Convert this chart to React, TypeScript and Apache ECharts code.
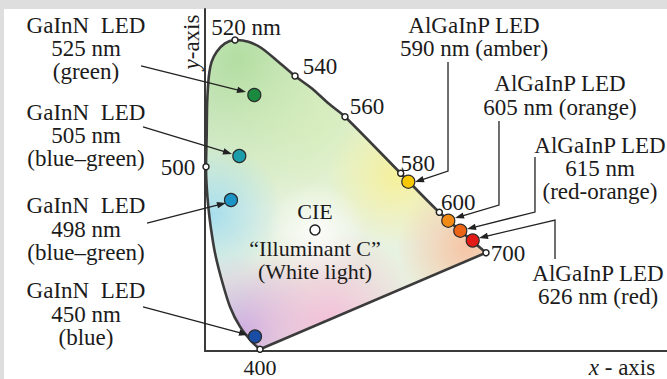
import React, { useEffect, useRef } from "react";
import * as echarts from "echarts";

// ---- DATA ----
// Spectral locus (chromaticity x, y), from 400 nm round to 700 nm
const locusX = [0.1429, 0.1213, 0.0909, 0.0649, 0.0434, 0.026, 0.0148, 0.0086, 0.0044, 0.0026, 0.0044, 0.0052, 0.007, 0.0104, 0.0174, 0.0304, 0.0519, 0.0779, 0.1125, 0.1473, 0.1904, 0.2338, 0.2771, 0.3203, 0.3636, 0.5083, 0.6086, 0.7299];
const locusY = [0.0046, 0.025, 0.0654, 0.1192, 0.191, 0.2636, 0.3344, 0.3882, 0.442, 0.4958, 0.5811, 0.6537, 0.6975, 0.7425, 0.7782, 0.8051, 0.8277, 0.8366, 0.832, 0.8143, 0.7782, 0.7398, 0.7067, 0.6663, 0.6303, 0.478, 0.3731, 0.2644];

// Wavelength markers on the locus
const markerNm = [400, 500, 520, 540, 560, 580, 600, 700];
const markerIdx = [0, 9, 17, 21, 24, 25, 26, 27];
const markerText = ["400", "500", "520 nm", "540", "560", "580", "600", "700"];

// LEDs
const ledNm = [525, 505, 498, 450, 590, 605, 615, 626];
const ledX = [0.1281, 0.0891, 0.0675, 0.1299, 0.5281, 0.6319, 0.6631, 0.6953];
const ledY = [0.6887, 0.5246, 0.4062, 0.039, 0.4554, 0.3505, 0.3236, 0.2973];

// CIE Illuminant C
const whiteX = [0.2857];
const whiteY = [0.3255];

// Leader lines (data coords), last point is the arrow tip
const arrow525 = [[-0.1662, 0.7667], [0.1065, 0.6967]];
const arrow505 = [[-0.161, 0.6026], [0.0701, 0.5299]];
const arrow498 = [[-0.1506, 0.3443], [0.0545, 0.3981]];
const arrow450 = [[-0.161, 0.1184], [0.1117, 0.043]];
const arrow590 = [[0.6312, 0.7774], [0.6312, 0.4842], [0.5455, 0.4546]];
const arrow605 = [[0.7636, 0.6187], [0.7636, 0.3927], [0.6494, 0.3578]];
const arrow615 = [[0.8571, 0.5219], [0.8571, 0.3739], [0.6805, 0.3282]];
const arrow626 = [[0.9091, 0.2475], [0.9091, 0.3524], [0.7117, 0.304]];
const arrows = [arrow525, arrow505, arrow498, arrow450, arrow590, arrow605, arrow615, arrow626];

// Label texts
const ledLabels = [
  "GaInN\u00a0 LED\n525 nm\n(green)",
  "GaInN\u00a0 LED\n505 nm\n(blue\u2013green)",
  "GaInN\u00a0 LED\n498 nm\n(blue\u2013green)",
  "GaInN\u00a0 LED\n450 nm\n(blue)",
  "AlGaInP LED\n590 nm (amber)",
  "AlGaInP LED\n605 nm (orange)",
  "AlGaInP LED\n615 nm\n(red-orange)",
  "AlGaInP LED\n626 nm (red)",
];
const whiteLabelTop = "CIE";
const whiteLabelBottom = "\u201cIlluminant C\u201d\n(White light)";

// ---- STYLE / LAYOUT ----
const ledColors = ["#1b8a3e", "#1c9eaa", "#1d94c6", "#1a4ea6", "#f7c808", "#f28a16", "#ec6416", "#e31b16"];
const ledLabelPos = [
  [86, 48.5],
  [86, 135.5],
  [86, 229],
  [86, 314],
  [474, 37],
  [560, 95.5],
  [600, 168.5],
  [598, 285],
];
const markerOffsets = [[0, 18], [-28, 1], [11, -13], [25, -9], [22, -10], [17, -10], [19, -10], [22, 1]];
const blobs = [
  { c: [0.09, 0.78], r: 150, color: [155, 212, 135], a: 0.7 },
  { c: [0.3, 0.6], r: 110, color: [215, 238, 180], a: 0.6 },
  { c: [0.02, 0.37], r: 70, color: [160, 220, 238], a: 0.9 },
  { c: [0.5, 0.47], r: 70, color: [250, 240, 140], a: 0.8 },
  { c: [0.68, 0.28], r: 70, color: [250, 185, 150], a: 0.8 },
  { c: [0.1, 0.05], r: 80, color: [200, 165, 225], a: 0.9 },
  { c: [0.32, 0.08], r: 95, color: [245, 180, 215], a: 0.8 },
  { c: [0.29, 0.32], r: 50, color: [255, 255, 255], a: 0.85 },
];

const FONT = '"Liberation Serif", "Times New Roman", serif';
const TXT = "#1b1b1b";
const LH = 23.2;

export default function App() {
  const ref = useRef<HTMLDivElement>(null);
  useEffect(() => {
    if (!ref.current) return;
    const chart = echarts.init(ref.current, undefined, { renderer: "svg" });
    const rgba = (c: number[], a: number) => `rgba(${c[0]},${c[1]},${c[2]},${a})`;

    const textEl = (t: string, x: number, y: number, size: number, lh: number) => ({
      type: "text",
      x,
      y,
      z: 50,
      style: {
        text: t,
        font: `${size}px ${FONT}`,
        lineHeight: lh,
        fill: TXT,
        textAlign: "center",
        textVerticalAlign: "middle",
      },
    });

    const graphicTexts: any[] = ledLabels.map((t, i) =>
      textEl(t, ledLabelPos[i][0], ledLabelPos[i][1], 23, LH)
    );
    graphicTexts.push(textEl(whiteLabelTop, 315, 211, 22, 22));
    graphicTexts.push(textEl(whiteLabelBottom, 315, 260, 22, 23));
    graphicTexts.push({
      type: "text",
      x: 191,
      y: 42,
      rotation: Math.PI / 2,
      z: 50,
      style: {
        text: "{i|y}-axis",
        font: `23px ${FONT}`,
        fill: TXT,
        textAlign: "center",
        textVerticalAlign: "middle",
        rich: { i: { fontStyle: "italic", fontSize: 23, fontFamily: FONT } },
      },
    });
    graphicTexts.push({
      type: "text",
      x: 622,
      y: 367,
      z: 50,
      style: {
        text: "{i|x} - axis",
        font: `23px ${FONT}`,
        lineHeight: 20,
        fill: TXT,
        textAlign: "center",
        textVerticalAlign: "middle",
        rich: { i: { fontStyle: "italic", fontSize: 23, fontFamily: FONT, lineHeight: 20 } },
      },
    });

    const axisCommon = {
      type: "value" as const,
      axisLine: { show: true, onZero: false, lineStyle: { color: "#3a3a3a", width: 2 } },
      axisTick: { show: false },
      axisLabel: { show: false },
      splitLine: { show: false },
    };

    chart.setOption({
      animation: false,
      grid: { left: 205, top: 9, right: 0, bottom: 28 },
      xAxis: { ...axisCommon, min: 0, max: 1.2 },
      yAxis: { ...axisCommon, min: 0, max: 0.92 },
      graphic: graphicTexts,
      series: [
        {
          type: "custom",
          z: 1,
          silent: true,
          data: [[0, 0]],
          renderItem: (_p: any, api: any) => {
            const pts = locusX.map((x, i) => api.coord([x, locusY[i]]));
            const children: any[] = [
              { type: "polygon", shape: { points: pts }, style: { fill: "#e8f2e0" } },
            ];
            blobs.forEach((b) => {
              const c = api.coord(b.c);
              children.push({
                type: "polygon",
                shape: { points: pts },
                style: {
                  fill: new echarts.graphic.RadialGradient(
                    c[0],
                    c[1],
                    b.r,
                    [
                      { offset: 0, color: rgba(b.color, b.a) },
                      { offset: 1, color: rgba(b.color, 0) },
                    ],
                    true
                  ),
                },
              });
            });
            children.push({
              type: "polyline",
              shape: { points: pts, smooth: 0.25 },
              style: { stroke: "#3b3b3b", lineWidth: 2.6, fill: null },
            });
            children.push({
              type: "line",
              shape: { x1: pts[pts.length - 1][0], y1: pts[pts.length - 1][1], x2: pts[0][0], y2: pts[0][1] },
              style: { stroke: "#3b3b3b", lineWidth: 2.6 },
            });
            return { type: "group", children };
          },
        },
        {
          type: "custom",
          z: 3,
          silent: true,
          data: arrows.map((_a, i) => [i, 0]),
          renderItem: (p: any, api: any) => {
            const path = arrows[p.dataIndex].map((q) => api.coord(q));
            const n = path.length;
            const [tx, ty] = path[n - 1];
            const [px, py] = path[n - 2];
            const dx = tx - px;
            const dy = ty - py;
            const len = Math.hypot(dx, dy);
            const ux = dx / len;
            const uy = dy / len;
            const L = 9;
            const W = 3.2;
            const bx = tx - ux * L;
            const by = ty - uy * L;
            const head = [
              [tx, ty],
              [bx - uy * W, by + ux * W],
              [bx + uy * W, by - ux * W],
            ];
            const linePts = path.slice(0, n - 1).concat([[bx + ux * 2, by + uy * 2]]);
            return {
              type: "group",
              children: [
                { type: "polyline", shape: { points: linePts }, style: { stroke: "#222", lineWidth: 1.3, fill: null } },
                { type: "polygon", shape: { points: head }, style: { fill: "#222" } },
              ],
            };
          },
        },
        {
          type: "scatter",
          z: 4,
          symbol: "circle",
          symbolSize: 6,
          itemStyle: { color: "#fff", borderColor: "#222", borderWidth: 1.5, opacity: 1 },
          data: markerNm.map((nm, i) => ({
            name: String(nm),
            value: [locusX[markerIdx[i]], locusY[markerIdx[i]]],
            label: {
              show: true,
              position: "inside",
              offset: markerOffsets[i],
              formatter: markerText[i],
              color: TXT,
              fontSize: nm === 400 ? 22 : 23,
              lineHeight: 18,
              fontFamily: FONT,
            },
          })),
        },
        {
          type: "scatter",
          z: 4,
          symbol: "circle",
          symbolSize: 10,
          itemStyle: { color: "#fff", borderColor: "#222", borderWidth: 1.5, opacity: 1 },
          data: whiteX.map((x, i) => [x, whiteY[i]]),
        },
        {
          type: "scatter",
          z: 5,
          symbol: "circle",
          symbolSize: 13,
          data: ledNm.map((nm, i) => ({
            name: nm + " nm",
            value: [ledX[i], ledY[i]],
            itemStyle: { color: ledColors[i], borderColor: "#2a2a2a", borderWidth: 1.2, opacity: 1 },
          })),
        },
      ],
    });
    return () => chart.dispose();
  }, []);

  return (
    <div style={{ position: "fixed", left: 0, top: 0, width: 667, height: 379, background: "#dedede", overflow: "hidden" }}>
      <div style={{ position: "absolute", left: 4, top: 9, right: 0, bottom: 0, background: "#fff" }} />
      <div ref={ref} style={{ position: "absolute", left: 0, top: 0, width: 667, height: 379 }} />
    </div>
  );
}
